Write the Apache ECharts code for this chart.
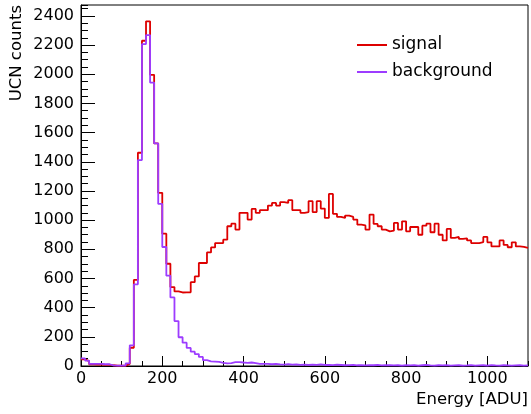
<!DOCTYPE html>
<html>
<head>
<meta charset="utf-8">
<title>UCN energy spectrum</title>
<script src="https://cdn.jsdelivr.net/npm/echarts@6/dist/echarts.min.js"></script>
<style>
  html, body { margin: 0; padding: 0; background: #fff; }
  #chart { width: 531px; height: 414px; }
</style>
</head>
<body>
<div id="chart"></div>
<script>
var binWidth = 10;
var energyMin = 0;
var energyMax = 1100;
var countsMax = 2475;
var xTickValues = [0, 200, 400, 600, 800, 1000];
var yTickValues = [0, 200, 400, 600, 800, 1000, 1200, 1400, 1600, 1800, 2000, 2200, 2400];
var seriesNames = ["signal", "background"];
var xTitle = "Energy [ADU]";
var yTitle = "UCN counts";

// bin contents, 10 ADU bins from 0 to 1100
var signalCounts = [
  45, 33, 12, 10, 12, 8, 10, 5, 3, 2,
  3, 15, 125, 590, 1462, 2230, 2363, 1996, 1526, 1187,
  907, 701, 541, 511, 504, 505, 505, 575, 614, 706,
  706, 779, 813, 843, 843, 866, 958, 976, 935, 1050,
  1050, 1004, 1077, 1050, 1068, 1068, 1100, 1118, 1100, 1123,
  1118, 1137, 1068, 1068, 1050, 1055, 1130, 1055, 1130, 1079,
  1015, 1180, 1043, 1022, 1015, 1031, 1022, 1004, 969, 964,
  935, 1038, 974, 958, 935, 923, 928, 981, 935, 992,
  923, 953, 953, 900, 962, 976, 917, 976, 900, 861,
  940, 878, 885, 871, 875, 861, 843, 843, 850, 885,
  848, 820, 820, 861, 830, 814, 848, 820, 816, 810
];
var backgroundCounts = [
  52, 37, 15, 14, 14, 12, 12, 4, 3, 3,
  3, 18, 142, 560, 1412, 2207, 2269, 1943, 1526, 1111,
  816, 619, 470, 308, 197, 160, 124, 98, 82, 62,
  40, 32, 30, 28, 22, 18, 20, 26, 27, 24,
  22, 24, 20, 15, 14, 14, 12, 15, 11, 10,
  13, 9, 11, 8, 10, 7, 9, 8, 11, 7,
  8, 6, 9, 7, 5, 6, 8, 5, 6, 4,
  6, 5, 7, 4, 5, 6, 4, 5, 3, 5,
  4, 6, 3, 5, 7, 4, 3, 5, 4, 6,
  3, 4, 5, 3, 4, 6, 3, 4, 5, 3,
  6, 4, 3, 5, 4, 3, 4, 5, 3, 4
];

var font = "DejaVu Sans";

function toSteps(counts) {
  var pts = counts.map(function (c, i) {
    return [energyMin + i * binWidth, c];
  });
  pts.push([energyMax, counts[counts.length - 1]]);
  return pts;
}

function plain(v) {
  return String(v);
}

var chart = echarts.init(document.getElementById("chart"), null, { renderer: "canvas" });

chart.setOption({
  animation: false,
  backgroundColor: "#ffffff",
  grid: {
    left: 81,
    right: 3,
    top: 5,
    bottom: 48,
    show: true,
    borderColor: "#000",
    borderWidth: 1,
    backgroundColor: "transparent"
  },
  legend: {
    data: seriesNames,
    orient: "vertical",
    left: 357,
    top: 35,
    padding: 0,
    itemGap: 7,
    itemWidth: 30,
    itemHeight: 2,
    icon: "rect",
    selectedMode: false,
    textStyle: { fontFamily: font, fontSize: 17, color: "#000", lineHeight: 20 }
  },
  xAxis: [
    {
      type: "value",
      min: energyMin,
      max: energyMax,
      position: "bottom",
      axisLine: { show: true, lineStyle: { color: "#000", width: 1 } },
      axisTick: { show: true, inside: true, length: 10, customValues: xTickValues, lineStyle: { color: "#000" } },
      axisLabel: { margin: 5, customValues: xTickValues, formatter: plain, fontFamily: font, fontSize: 16, color: "#000" },
      splitLine: { show: false }
    },
    {
      type: "value",
      min: energyMin,
      max: energyMax,
      interval: 50,
      position: "bottom",
      axisLine: { show: false },
      axisTick: { show: true, inside: true, length: 5, lineStyle: { color: "#000" } },
      axisLabel: { show: false },
      splitLine: { show: false }
    }
  ],
  yAxis: [
    {
      type: "value",
      min: 0,
      max: countsMax,
      position: "left",
      axisLine: { show: true, lineStyle: { color: "#000", width: 1 } },
      axisTick: { show: true, inside: true, length: 14, customValues: yTickValues, lineStyle: { color: "#000" } },
      axisLabel: { margin: 7, customValues: yTickValues, formatter: plain, fontFamily: font, fontSize: 16, color: "#000" },
      splitLine: { show: false }
    },
    {
      type: "value",
      min: 0,
      max: countsMax,
      interval: 50,
      position: "left",
      axisLine: { show: false },
      axisTick: { show: true, inside: true, length: 7, lineStyle: { color: "#000" } },
      axisLabel: { show: false },
      splitLine: { show: false }
    }
  ],
  series: [
    {
      name: seriesNames[0],
      type: "line",
      step: "end",
      data: toSteps(signalCounts),
      xAxisIndex: 0,
      yAxisIndex: 0,
      symbol: "none",
      showSymbol: false,
      color: "#dd0000",
      lineStyle: { color: "#dd0000", width: 1.8 },
      z: 2
    },
    {
      name: seriesNames[1],
      type: "line",
      step: "end",
      data: toSteps(backgroundCounts),
      xAxisIndex: 0,
      yAxisIndex: 0,
      symbol: "none",
      showSymbol: false,
      color: "#9d3cff",
      lineStyle: { color: "#9d3cff", width: 1.8 },
      z: 3
    }
  ],
  graphic: [
    {
      type: "text",
      right: 3,
      top: 391,
      style: { text: xTitle, font: "16.5px '" + font + "'", fill: "#000" }
    },
    {
      type: "text",
      x: 17,
      y: 5,
      rotation: Math.PI / 2,
      style: {
        text: yTitle,
        font: "16.5px '" + font + "'",
        fill: "#000",
        align: "right",
        verticalAlign: "middle",
        textAlign: "right",
        textVerticalAlign: "middle"
      }
    }
  ]
});
</script>
</body>
</html>
